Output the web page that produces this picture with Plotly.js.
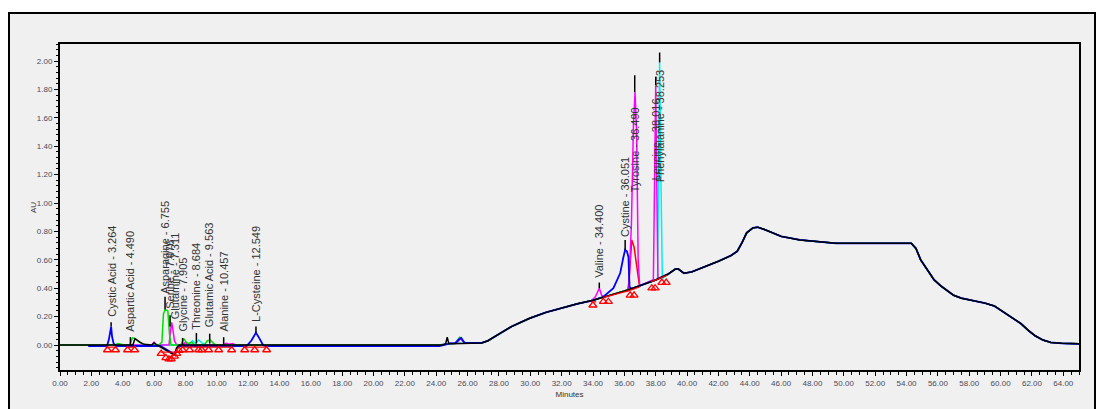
<!DOCTYPE html>
<html><head><meta charset="utf-8">
<script src="https://cdn.plot.ly/plotly-3.0.1.min.js"></script>
<style>
html,body{margin:0;padding:0;background:#fff;width:1102px;height:409px;overflow:hidden}
#frame{position:absolute;left:8px;top:12px;width:1088px;height:420px;border:2px solid #000;background:#f0f0f0;box-sizing:border-box}
#chart{position:absolute;left:0;top:0;width:1102px;height:409px}
</style></head><body><div id="frame"></div><div id="chart"></div>
<script>
// ---- common gradient drift (minutes, AU) ----
const driftT = [0, 24.2, 24.9, 26.9, 27.3, 27.8, 28.3, 28.8, 29.4, 30.0, 31.0, 32.0, 33.0, 34.0, 35.0, 36.0, 37.0, 38.0, 38.8, 39.25, 39.45, 39.8, 40.3, 41.0, 42.0, 42.8, 43.2, 43.5, 43.8, 44.2, 44.5, 44.9, 45.3, 46.0, 47.2, 48.5, 49.5, 54.3, 54.6, 54.9, 55.35, 55.75, 56.2, 56.6, 57.0, 57.5, 58.0, 59.0, 59.6, 60.0, 60.6, 61.3, 61.8, 62.2, 62.7, 63.2, 63.9, 65];
const driftV = [0, 0, 0.012, 0.015, 0.03, 0.065, 0.1, 0.13, 0.16, 0.19, 0.23, 0.262, 0.29, 0.315, 0.345, 0.38, 0.418, 0.458, 0.5, 0.535, 0.535, 0.505, 0.515, 0.545, 0.59, 0.63, 0.66, 0.72, 0.79, 0.825, 0.83, 0.815, 0.795, 0.765, 0.74, 0.725, 0.716, 0.716, 0.68, 0.60, 0.53, 0.46, 0.415, 0.38, 0.35, 0.33, 0.318, 0.295, 0.275, 0.245, 0.2, 0.15, 0.1, 0.065, 0.035, 0.018, 0.012, 0.008];

// ---- per-run peak segments (absolute values) ----
const blackSegT = [[4.65,4.78,4.9,5.1,5.35,5.6],[5.85,6.0,6.15],[6.2,7.35,7.45,7.6],[24.45,24.6,24.7,24.8,24.95]];
const blackSegV = [[0,0.045,0.035,0.02,0.005,0],[0,0.015,0],[0,-0.075,-0.02,0],[0,0.01,0.055,0.01,0.008]];
const blueStart = 1.8;
const blueSegT = [[1.8,3.0,3.12,3.2,3.26,3.32,3.42,3.6,6.4,7.3,7.45,7.6,11.9,12.2,12.35,12.5,12.7,12.95,13.1,24.2],[25.2,25.45,25.6,25.8],[34.5,34.66,35.3,35.73,35.94,36.05,36.16,36.26,36.33,36.45]];
const blueSegV = [[-0.007,-0.007,0.04,0.11,0.13,0.06,0.01,-0.007,-0.007,-0.065,-0.02,-0.007,-0.007,0.03,0.06,0.087,0.05,0.0,-0.007,-0.007],[0.012,0.04,0.05,0.015],[0.33,0.34,0.40,0.505,0.62,0.67,0.66,0.62,0.41,0.395]];
const greenSegT = [[3.5,3.7,3.9,4.1],[4.45,4.55,4.62,4.8,5.0,5.3,5.5],[6.3,6.5,6.6,6.72,6.88,6.98,7.08,7.2],[7.7,7.9,8.05,8.2,8.4,8.6],[9.2,9.4,9.6,9.8,10.0],[25.2,25.5,25.7,25.9]];
const greenSegV = [[0,0.01,0.005,0],[0,0.03,0.05,0.045,0.025,0.005,0],[0,0.02,0.22,0.25,0.24,0.08,0.0,0],[0,0.045,0.02,0.01,0.02,0],[0,0.03,0.035,0.01,0],[0.012,0.055,0.03,0.015]];
const magentaSegT = [[5.85,6.0,6.15],[6.95,7.05,7.12,7.2,7.3,7.45],[7.85,8.0,8.15],[10.4,10.6,10.8,11.0,11.2],[25.3,25.55,25.8],[33.9,34.15,34.4,34.55,34.75],[36.2,36.3,36.45,36.58,36.68,36.78,36.88,36.98],[37.85,37.93,38.0,38.07,38.14]];
const magentaSegV = [[0,0.02,0],[0,0.1,0.16,0.11,0.03,0],[0,0.02,0],[0,0.012,0.005,0.01,0],[0.012,0.045,0.015],[0.312,0.34,0.40,0.35,0.337],[0.38,0.45,0.85,1.55,1.78,1.5,0.6,0.41],[0.46,1.1,1.83,1.1,0.465]];
const cyanSegT = [[8.2,8.45,8.65,8.85,9.05,9.3],[38.12,38.18,38.25,38.33,38.42]];
const cyanSegV = [[0,0.03,0.012,0.035,0.015,0],[0.466,1.2,1.99,1.2,0.47]];
const redPeakT = [36.26,36.4,36.47,36.62,36.8,36.96];
const redPeakV = [0.39,0.6,0.74,0.69,0.55,0.42];

// ---- integration baselines and markers ----
const baseSegT = [[2.9,3.6],[4.2,4.85],[6.4,7.7],[7.75,11.0],[11.7,13.25],[33.9,34.2],[34.66,36.37],[36.37,37.0],[37.7,38.7]];
const baseSegV = [[-0.015,-0.015],[-0.015,-0.015],[-0.05,-0.05],[-0.015,-0.015],[-0.015,-0.015],[0.3,0.305],[0.335,0.385],[0.385,0.41],[0.445,0.49]];
const markT = [3.03,3.54,4.31,4.76,6.45,6.75,6.95,7.1,7.3,7.45,7.6,7.82,8.27,8.84,9.04,9.48,10.12,10.95,11.78,12.42,13.18,33.99,34.66,34.98,36.37,36.62,37.75,37.96,38.39,38.67];
const markV = [-0.035,-0.035,-0.035,-0.035,-0.06,-0.09,-0.1,-0.1,-0.08,-0.06,-0.04,-0.035,-0.035,-0.035,-0.035,-0.035,-0.035,-0.035,-0.035,-0.035,-0.035,0.28,0.305,0.305,0.35,0.35,0.40,0.40,0.44,0.44];

// ---- peak labels ----
const labelText = ["Cystic Acid - 3.264","Aspartic Acid - 4.490","Asparagine - 6.755","Serine - 7.076","Glutamine - 7.311","Glycine - 7.905","Threonine - 8.684","Glutamic Acid - 9.563","Alanine - 10.457","L-Cysteine - 12.549","Valine - 34.400","Cystine - 36.051","Tyrosine - 36.490","Leucine - 38.016","Phenylalanine - 38.253"];
const labelT = [3.26,4.49,6.70,7.02,7.31,7.82,8.70,9.55,10.44,12.50,34.40,36.05,36.66,38.0,38.25];
const labelBottom = [0.19,0.085,0.35,0.245,0.175,0.085,0.10,0.12,0.085,0.155,0.465,0.755,1.07,1.15,1.14];
const leaderFrom = [0.13,0.0,0.25,0.13,0.0,0.0,0.01,0.01,0.0,0.087,0.40,0.67,1.78,1.83,1.99];
const leaderTo = [0.16,0.055,0.34,0.21,0.0,0.05,0.085,0.08,0.055,0.13,0.44,0.74,1.9,1.89,2.06];

function build(segT, segV, start) {
  const pts = [];
  for (let i = 0; i < driftT.length; i++) {
    const t = driftT[i];
    if (start !== undefined && t < start) continue;
    let inside = false;
    for (const s of segT) { if (t >= s[0] && t <= s[s.length-1]) { inside = true; break; } }
    if (!inside) pts.push([t, driftV[i]]);
  }
  segT.forEach((s, k) => s.forEach((t, j) => pts.push([t, segV[k][j]])));
  pts.sort((a, b) => a[0] - b[0]);
  return {x: pts.map(p => p[0]), y: pts.map(p => p[1])};
}
function run(name, color, segT, segV, start, w) {
  const d = build(segT, segV, start);
  return {x: d.x, y: d.y, type: 'scatter', mode: 'lines', name: name,
          line: {color: color, width: w || 1.5}, hoverinfo: 'skip'};
}
const traces = [];
traces.push({x: redPeakT, y: redPeakV, type: 'scatter', mode: 'lines', line: {color: '#ff0000', width: 1.5}});
traces.push(run('cyan', '#00f0f0', cyanSegT, cyanSegV));
traces.push(run('magenta', '#ff00ff', magentaSegT, magentaSegV));
traces.push(run('green', '#00dd00', greenSegT, greenSegV));
traces.push(run('blue', '#0000ff', blueSegT, blueSegV, blueStart, 1.8));
traces.push(run('black', '#000000', blackSegT, blackSegV, undefined, 1.5));
// baselines
const bx = [], by = [];
baseSegT.forEach((s, k) => { s.forEach((t, j) => { bx.push(t); by.push(baseSegV[k][j]); }); bx.push(null); by.push(null); });
traces.push({x: bx, y: by, type: 'scatter', mode: 'lines', line: {color: '#ff0000', width: 1.2}});
traces.push({x: markT, y: markV, type: 'scatter', mode: 'markers',
  marker: {symbol: 'triangle-up-open', size: 7, color: '#ff0000', line: {width: 1.3, color: '#ff0000'}}});
// leaders
const lx = [], ly = [];
labelT.forEach((t, i) => { if (leaderTo[i] > leaderFrom[i]) { lx.push(t, t, null); ly.push(leaderFrom[i], leaderTo[i], null); } });
traces.push({x: lx, y: ly, type: 'scatter', mode: 'lines', line: {color: '#000', width: 1.5}});

const annotations = labelText.map((txt, i) => ({
  x: labelT[i], y: labelBottom[i], xref: 'x', yref: 'y', text: txt, textangle: -90,
  showarrow: false, xanchor: 'center', yanchor: 'bottom', borderpad: 0,
  font: {family: 'Liberation Sans, Arial, sans-serif', size: 11, color: '#333'}
}));
annotations.push({x: -0.0265, y: 0.5, xref: 'paper', yref: 'paper', text: 'AU', textangle: -90,
  showarrow: false, xanchor: 'center', yanchor: 'middle',
  font: {family: 'Liberation Sans, Arial, sans-serif', size: 8, color: '#333'}});

const tickFont = {family: 'Liberation Sans, Arial, sans-serif', size: 8, color: '#4a4a5a'};
const layout = {
  width: 1102, height: 409,
  margin: {l: 60, r: 23, t: 44, b: 39, pad: 0},
  paper_bgcolor: 'rgba(0,0,0,0)', plot_bgcolor: '#f0f0f0',
  showlegend: false,
  xaxis: {range: [0, 65], dtick: 2, tick0: 0, tickformat: '.2f', showgrid: false, zeroline: false,
    showline: true, linecolor: '#000', linewidth: 2, mirror: true,
    ticks: 'outside', ticklen: 4, tickwidth: 1, tickcolor: '#000', tickfont: tickFont,
    minor: {dtick: 0.5, ticks: 'outside', ticklen: 2.5, tickwidth: 1, tickcolor: '#000', showgrid: false},
    title: {text: 'Minutes', font: {family: 'Liberation Sans, Arial, sans-serif', size: 8, color: '#333'}, standoff: 5}},
  yaxis: {range: [-0.176, 2.12], dtick: 0.2, tick0: 0, tickformat: '.2f', showgrid: false, zeroline: false,
    showline: true, linecolor: '#000', linewidth: 2, mirror: true,
    ticks: 'outside', ticklen: 4, tickwidth: 1, tickcolor: '#000', tickfont: tickFont,
    minor: {dtick: 0.04, ticks: 'outside', ticklen: 2.5, tickwidth: 1, tickcolor: '#000', showgrid: false}},
  annotations: annotations
};
Plotly.newPlot('chart', traces, layout, {staticPlot: true, displayModeBar: false});
</script></body></html>
